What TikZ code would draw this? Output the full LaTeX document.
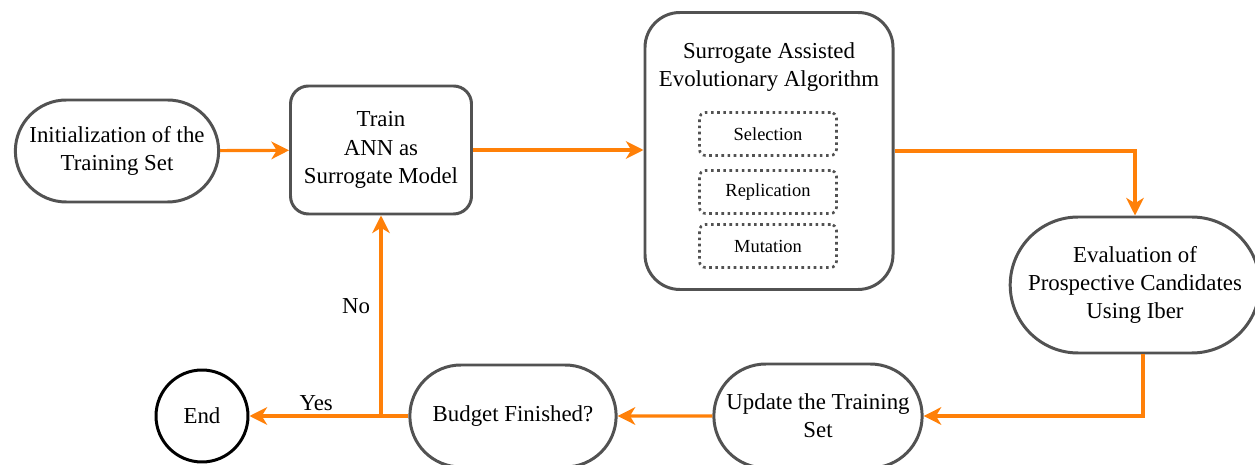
\documentclass[tikz,border=0pt]{standalone}
\usepackage{fontspec}
\setmainfont{Liberation Serif}
\newfontfamily\flowfont{Liberation Serif}
\usepackage{tikz}
\usetikzlibrary{arrows.meta, positioning, shapes.misc}
\definecolor{flowgray}{RGB}{82, 82, 82}
\definecolor{floworange}{RGB}{255, 128, 8}

\begin{document}
\begin{tikzpicture}[
    pill/.style={rounded rectangle, draw=flowgray, line width=1.7pt, align=center, font=\flowfont\fontsize{13}{16}\selectfont},
    box/.style={rectangle, rounded corners=0.36cm, draw=flowgray, line width=1.7pt, align=center, font=\flowfont\fontsize{13}{16}\selectfont},
    opbox/.style={rectangle, rounded corners=0.12cm, draw=flowgray, line width=1.5pt, dotted, minimum width=2.74cm, minimum height=0.86cm, font=\flowfont\fontsize{10.5}{12}\selectfont},
    arrow/.style={-{Stealth[length=10pt, width=10pt, inset=3pt]}, draw=floworange, line width=1.8pt},
    lbl/.style={font=\flowfont\fontsize{13}{16}\selectfont}
]
    \useasboundingbox (0, 0) rectangle (25.1, -9.3);

    % Upper row
    \node[pill, minimum width=4.3cm, minimum height=2.04cm] (init) at (2.34, -3.02) {Initialization of the\\Training Set};
    \node[box, minimum width=3.62cm, minimum height=2.56cm] (train) at (7.62, -3.0) {Train\\ANN as\\Surrogate Model};
    \node[box, rounded corners=0.7cm, minimum width=4.96cm, minimum height=5.54cm] (saea) at (15.38, -3.02) {};
    \node[lbl, align=center] (saeatitle) at (15.38, -1.34) {Surrogate Assisted\\Evolutionary Algorithm};

    % Operators
    \node[opbox] (sel) at (15.36, -2.68) {Selection};
    \node[opbox] (rep) at (15.36, -3.84) {Replication};
    \node[opbox] (mut) at (15.36, -4.92) {Mutation};

    % Right and lower row
    \node[pill, minimum width=4.78cm, minimum height=2.72cm] (eval) at (22.7, -5.7) {Evaluation of\\Prospective Candidates\\Using Iber};
    \node[pill, minimum width=4.4cm, minimum height=2.08cm] (update) at (16.36, -8.32) {Update the Training\\Set};
    \node[pill, minimum width=4.36cm, minimum height=2.04cm] (budget) at (10.26, -8.32) {Budget Finished?};
    \node[circle, draw=black, line width=1.7pt, minimum size=1.84cm, lbl] (end) at (4.04, -8.32) {End};
    \coordinate (split) at (train |- budget);

    % Arrows
    \draw[arrow] (init) -- (train);
    \draw[arrow] (train.east) -- (train.east -| saea.west);
    \draw[arrow] (saea.east) -| (eval.north);
    \draw[arrow] ([xshift=0.16cm]eval.south) |- (update);
    \draw[arrow] (update) -- (budget);
    \draw[arrow] (budget) -- (end) node[lbl, pos=0.58, above=-1pt] {Yes};
    \draw[arrow] (split) -- (train) node[lbl, pos=0.55, left=2pt] {No};
\end{tikzpicture}
\end{document}
